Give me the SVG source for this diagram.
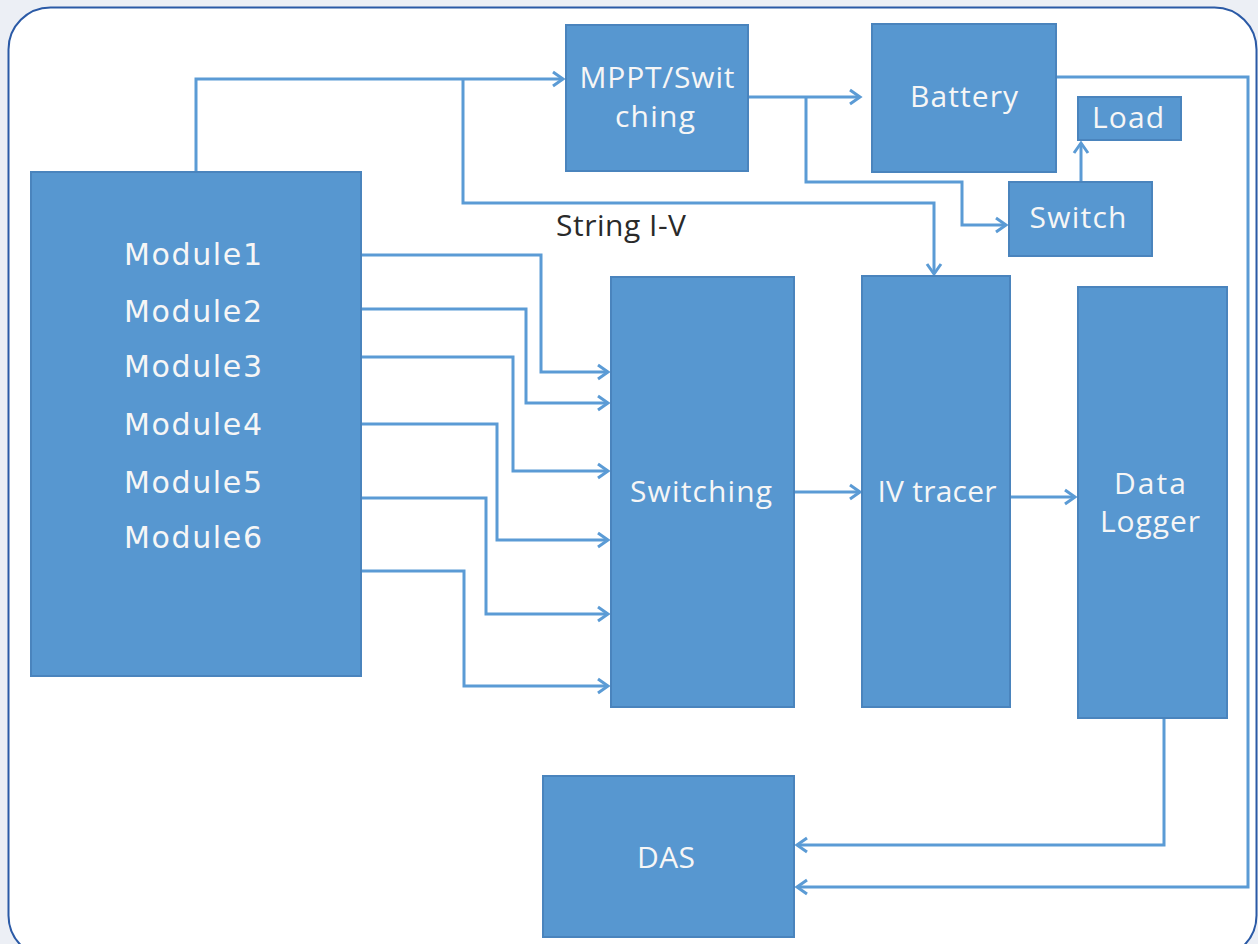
<svg xmlns="http://www.w3.org/2000/svg" width="1258" height="944" viewBox="0 0 1258 944">
<style>
.box{fill:#5797d0;stroke:#4a84bd;stroke-width:2}
.lbl{font-family:"Open Sans","Liberation Sans",sans-serif;font-size:30px;fill:#f6f6f6;text-anchor:middle}
.mod{font-family:"DejaVu Sans","Liberation Sans",sans-serif;font-size:30px;fill:#f6f6f6;text-anchor:middle}
.cn{fill:none;stroke:#5b9bd5;stroke-width:3}
</style>
<defs>
<marker id="arr" markerUnits="userSpaceOnUse" markerWidth="16" markerHeight="18" refX="13" refY="9" orient="auto">
<path d="M3,2 L13,9 L3,16" fill="none" stroke="#5b9bd5" stroke-width="3"/>
</marker>
</defs>
<rect x="0" y="0" width="1258" height="944" fill="#eceff5"/>
<rect x="8.5" y="7.5" width="1248" height="950" rx="42" ry="42" fill="#ffffff" stroke="#2b5aa6" stroke-width="2"/>

<g id="connectors">
<polyline class="cn" points="196,172 196,79 563,79" marker-end="url(#arr)"/>
<polyline class="cn" points="463,79 463,203 934,203 934,274" marker-end="url(#arr)"/>
<polyline class="cn" points="748,97 860,97" marker-end="url(#arr)"/>
<polyline class="cn" points="806,97 806,182 962,182 962,225 1006,225" marker-end="url(#arr)"/>
<polyline class="cn" points="1081,182 1081,143" marker-end="url(#arr)"/>
<polyline class="cn" points="1056,77 1248,77 1248,887 797,887" marker-end="url(#arr)"/>
<polyline class="cn" points="1164,718 1164,845 797,845" marker-end="url(#arr)"/>
<polyline class="cn" points="794,492 860,492" marker-end="url(#arr)"/>
<polyline class="cn" points="1010,497 1075,497" marker-end="url(#arr)"/>
<polyline class="cn" points="361,255 541,255 541,372 608,372" marker-end="url(#arr)"/>
<polyline class="cn" points="361,309 526,309 526,403 608,403" marker-end="url(#arr)"/>
<polyline class="cn" points="361,357 513,357 513,471 608,471" marker-end="url(#arr)"/>
<polyline class="cn" points="361,424 497,424 497,540 608,540" marker-end="url(#arr)"/>
<polyline class="cn" points="361,498 486,498 486,614 608,614" marker-end="url(#arr)"/>
<polyline class="cn" points="361,571 464,571 464,686 608,686" marker-end="url(#arr)"/>
</g>

<g id="modules">
<rect class="box" x="31" y="172" width="330" height="504"/>
<text class="mod" x="193" y="265" textLength="138">Module1</text>
<text class="mod" x="193" y="322" textLength="138">Module2</text>
<text class="mod" x="193" y="377" textLength="138">Module3</text>
<text class="mod" x="193" y="435" textLength="138">Module4</text>
<text class="mod" x="193" y="493" textLength="138">Module5</text>
<text class="mod" x="193" y="548" textLength="138">Module6</text>
</g>

<g id="mppt">
<rect class="box" x="566" y="25" width="182" height="146"/>
<text class="lbl" x="657" y="88" textLength="155">MPPT/Swit</text>
<text class="lbl" x="655" y="127" textLength="80">ching</text>
</g>

<g id="battery">
<rect class="box" x="872" y="24" width="184" height="148"/>
<text class="lbl" x="964" y="107" textLength="108">Battery</text>
</g>

<g id="load">
<rect class="box" x="1078" y="97" width="103" height="43"/>
<text class="lbl" x="1128" y="128" textLength="72">Load</text>
</g>

<g id="switch">
<rect class="box" x="1009" y="182" width="143" height="74"/>
<text class="lbl" x="1078" y="228" textLength="97">Switch</text>
</g>

<g id="string-iv-label">
<text x="556" y="236" font-family="'Open Sans','Liberation Sans',sans-serif" font-size="30" fill="#2a2a2a" textLength="130">String I-V</text>
</g>

<g id="switching">
<rect class="box" x="611" y="277" width="183" height="430"/>
<text class="lbl" x="701" y="502" textLength="142">Switching</text>
</g>

<g id="ivtracer">
<rect class="box" x="862" y="276" width="148" height="431"/>
<text class="lbl" x="937" y="502" textLength="119">IV tracer</text>
</g>

<g id="datalogger">
<rect class="box" x="1078" y="287" width="149" height="431"/>
<text class="lbl" x="1150" y="494" textLength="72">Data</text>
<text class="lbl" x="1150" y="532" textLength="100">Logger</text>
</g>

<g id="das">
<rect class="box" x="543" y="776" width="251" height="161"/>
<text class="lbl" x="666" y="868" textLength="58">DAS</text>
</g>
</svg>
